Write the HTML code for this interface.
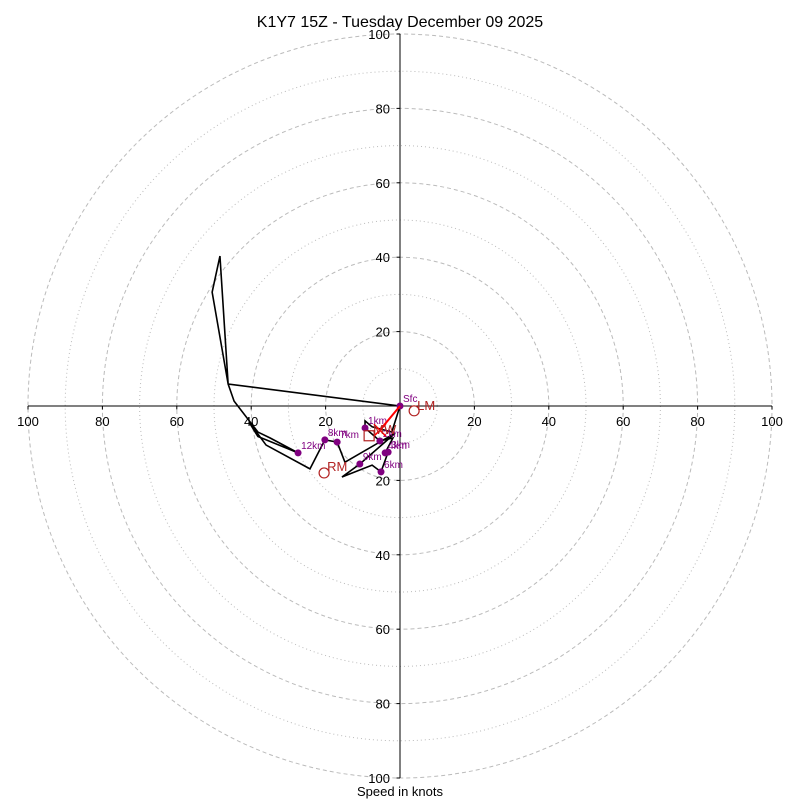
<!DOCTYPE html>
<html><head><meta charset="utf-8"><style>
body{margin:0;background:#fff}
svg{display:block;font-family:"Liberation Sans","DejaVu Sans",sans-serif}
</style></head><body>
<svg id="chart" width="800" height="800">
<rect width="800" height="800" fill="#fff"/>
<text x="400" y="27" text-anchor="middle" font-size="16">K1Y7 15Z - Tuesday December 09 2025</text>
<g id="grid"></g>
<g id="axes"></g>
<g id="marks"></g>
<text x="400" y="796" text-anchor="middle" font-size="13">Speed in knots</text>
</svg>
<script>
const rings = [10,20,30,40,50,60,70,80,90,100];
const tickVals = [20,40,60,80,100];
const pathU = [0,-2.2,-7.5,-9.4,-9.4,-5.4,-1.9,-4.0,-3.2,-5.1,-7.5,-15.6,-10.8,-1.3,-14.8,-16.9,-20.2,-24.2,-36.0,-40.6,-38.2,-27.4,-34.9,-38.2,-44.6,-46.2,-50.5,-48.4,-46.2,0];
const pathV = [0,-7.0,-5.6,-4.0,-5.9,-9.4,-8.6,-12.6,-12.4,-17.7,-15.9,-19.1,-15.6,-7.3,-15.1,-9.7,-9.1,-16.9,-10.5,-4.3,-8.2,-12.6,-8.6,-7.0,1.3,5.9,30.6,40.3,5.9,0];
const hLabels = ["Sfc","1km","2km","3km","4km","6km","9km","7km","8km","12km"];
const hU = [0,-9.4,-5.4,-3.2,-4.0,-5.1,-10.8,-16.9,-20.2,-27.4];
const hV = [0,-5.9,-9.4,-12.4,-12.6,-17.7,-15.6,-9.7,-9.1,-12.6];
const lmUV = [3.8,-1.3];
const rmUV = [-20.4,-18.0];
const mwUV = [-8.3,-8.0];
const smUV = [-5.4,-6.5];

const cx=400, cy=406, k=3.72;
const X=u=>cx+u*k, Y=v=>cy-v*k;
const NS="http://www.w3.org/2000/svg";
function mk(tag,attrs,parent,text){const e=document.createElementNS(NS,tag);for(const a in attrs)e.setAttribute(a,attrs[a]);if(text!==undefined)e.textContent=text;parent.appendChild(e);return e;}
const grid=document.getElementById('grid'), axes=document.getElementById('axes'), marks=document.getElementById('marks');
rings.forEach(r=>{
  const c=mk('circle',{cx:cx,cy:cy,r:r*k,fill:'none',stroke:'#bbb','stroke-width':1,'stroke-dasharray':r%20===0?'4,3':'1,3'},grid);
  
  
});
const l1=mk('line',{x1:X(-100),y1:cy,x2:X(100),y2:cy,stroke:'#000','stroke-width':1},axes);


const l2=mk('line',{x1:cx,y1:Y(100),x2:cx,y2:Y(-100),stroke:'#000','stroke-width':1},axes);


tickVals.forEach(t=>{
  [t,-t].forEach(s=>{
    mk('line',{x1:X(s),y1:cy,x2:X(s),y2:cy+3.5,stroke:'#000'},axes);
    const tx=mk('text',{x:X(s),y:cy+20,'text-anchor':'middle','font-size':13},axes,String(t));
    
    
    mk('line',{x1:cx-3.5,y1:Y(s),x2:cx,y2:Y(s),stroke:'#000'},axes);
    const ty=mk('text',{x:cx-10,y:Y(s)+5,'text-anchor':'end','font-size':13},axes,String(t));
    
    
  });
});
const pts=pathU.map((u,i)=>X(u)+','+Y(pathV[i])).join(' ');
const pl=mk('polyline',{points:pts,fill:'none',stroke:'#000','stroke-width':1.6},marks);


hLabels.forEach((lab,i)=>{
  const d=mk('circle',{cx:X(hU[i]),cy:Y(hV[i]),r:3.5,fill:'purple'},marks);
  
  
  const t=mk('text',{x:X(hU[i])+3,y:Y(hV[i])-4,'font-size':10,fill:'purple'},marks,lab);
  
  
});
const ar=mk('line',{x1:cx,y1:cy,x2:X(smUV[0]),y2:Y(smUV[1]),stroke:'red','stroke-width':2},marks);


const sx=X(smUV[0]),sy=Y(smUV[1]);
const xm=mk('path',{d:`M${sx-6},${sy-6}L${sx+6},${sy+6}M${sx-6},${sy+6}L${sx+6},${sy-6}`,stroke:'red','stroke-width':1.5},marks);


const lm=mk('circle',{cx:X(lmUV[0]),cy:Y(lmUV[1]),r:5,fill:'none',stroke:'#b22222','stroke-width':1.2},marks);


const lmt=mk('text',{x:X(lmUV[0])+3,y:Y(lmUV[1])-1,'font-size':13,fill:'#b22222'},marks,'LM');


const rm=mk('circle',{cx:X(rmUV[0]),cy:Y(rmUV[1]),r:5,fill:'none',stroke:'#b22222','stroke-width':1.2},marks);


const rmt=mk('text',{x:X(rmUV[0])+3,y:Y(rmUV[1])-2,'font-size':13,fill:'#b22222'},marks,'RM');


const mw=mk('rect',{x:X(mwUV[0])-5,y:Y(mwUV[1])-5,width:10,height:10,fill:'none',stroke:'#b22222','stroke-width':1.2},marks);


const mwt=mk('text',{x:X(mwUV[0])+4,y:Y(mwUV[1])-2,'font-size':13,fill:'#b22222'},marks,'MW');


</script>
</body></html>
